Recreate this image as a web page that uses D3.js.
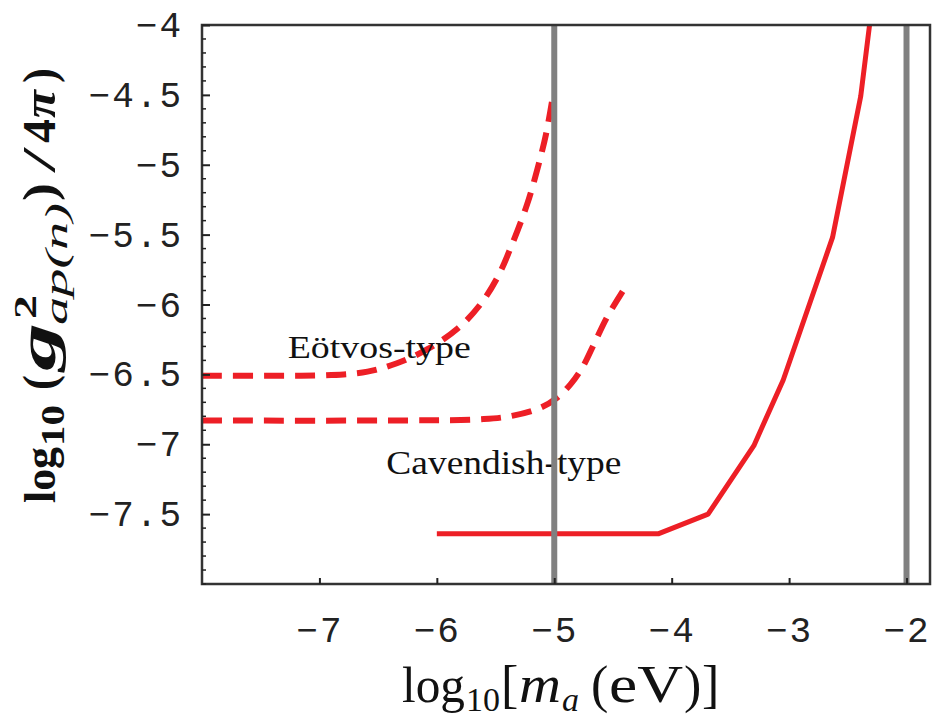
<!DOCTYPE html>
<html>
<head>
<meta charset="utf-8">
<script src="https://cdn.jsdelivr.net/npm/d3@7/dist/d3.min.js"></script>
<style>
  body { margin: 0; background: #fff; }
  svg { display: block; }
  .tick-label { font-family: "Liberation Mono", "DejaVu Sans Mono", monospace; font-size: 36px; fill: #222; }
  .serif { font-family: "Liberation Serif", "DejaVu Serif", serif; fill: #111; }
</style>
</head>
<body>
<svg id="chart" width="933" height="718"></svg>
<script>
// x = log10[m_a (eV)], y = log10(g^2/4pi)
const xTicks = [-7, -6, -5, -4, -3, -2];
const yTicks = [-4, -4.5, -5, -5.5, -6, -6.5, -7, -7.5];
const yMinor = d3.range(-8, -4.001, 0.1);

const cavendish = [
  [-6.0, -7.64], [-4.11, -7.64], [-3.69, -7.50], [-3.30, -7.01], [-3.05, -6.54],
  [-2.63, -5.52], [-2.39, -4.51], [-2.30, -3.90]
];
const eotvosUpper = [
  [-8.0, -6.51], [-7.4, -6.51], [-6.9, -6.505], [-6.59, -6.48], [-6.34, -6.42],
  [-6.08, -6.32], [-5.82, -6.17], [-5.63, -6.00], [-5.48, -5.80], [-5.35, -5.55],
  [-5.23, -5.28], [-5.14, -5.02], [-5.07, -4.78], [-5.02, -4.55]
];
const eotvosLower = [
  [-8.0, -6.83], [-6.5, -6.83], [-5.6, -6.82], [-5.35, -6.795], [-5.12, -6.74],
  [-4.98, -6.67], [-4.86, -6.57], [-4.76, -6.45], [-4.66, -6.28], [-4.55, -6.09],
  [-4.39, -5.87]
];
const boundaries = [-5, -2];

const svg = d3.select("#chart");
const margin = { top: 25, right: 3, bottom: 134, left: 202 };
const width = 933, height = 718;
const w = width - margin.left - margin.right, h = height - margin.top - margin.bottom;

const x = d3.scaleLinear().domain([-8, -1.8]).range([0, w]);
const y = d3.scaleLinear().domain([-8, -4]).range([h, 0]);

const g = svg.append("g").attr("transform", `translate(${margin.left},${margin.top})`);

g.append("clipPath").attr("id", "clip").append("rect").attr("width", w).attr("height", h);

const line = d3.line().x(d => x(d[0])).y(d => y(d[1]));
const smooth = d3.line().x(d => x(d[0])).y(d => y(d[1])).curve(d3.curveCatmullRom.alpha(0.5));

const plot = g.append("g").attr("clip-path", "url(#clip)");

plot.append("path").datum(cavendish).attr("d", line)
  .attr("fill", "none").attr("stroke", "#ed1f26").attr("stroke-width", 5).attr("stroke-linejoin", "round");
[eotvosUpper, eotvosLower].forEach(s => {
  plot.append("path").datum(s).attr("d", smooth)
    .attr("fill", "none").attr("stroke", "#ed1f26").attr("stroke-width", 6)
    .attr("stroke-dasharray", "20,11");
});

// labels
g.append("text").attr("class", "serif").attr("x", x(-7.27)).attr("y", y(-6.38))
  .attr("font-size", 31).attr("textLength", 183).attr("lengthAdjust", "spacingAndGlyphs").text("Eötvos-type");
g.append("text").attr("class", "serif").attr("x", x(-6.43)).attr("y", y(-7.21))
  .attr("font-size", 33).attr("textLength", 235).attr("lengthAdjust", "spacingAndGlyphs").text("Cavendish-type");

// grey vertical bounds drawn on top
g.selectAll(".bound").data(boundaries).enter().append("line")
  .attr("x1", d => x(d)).attr("x2", d => x(d)).attr("y1", 0).attr("y2", h)
  .attr("stroke", "#808080").attr("stroke-width", 6);

// frame
g.append("rect").attr("width", w).attr("height", h)
  .attr("fill", "none").attr("stroke", "#333").attr("stroke-width", 2.5);

// axes: inward ticks
const yAxis = g.append("g").call(d3.axisLeft(y).tickValues(yTicks).tickSize(-8).tickFormat(d => String(d).replace("-", "−")).tickPadding(18));
yAxis.select(".domain").remove();
yAxis.selectAll(".tick line").attr("stroke", "#222").attr("stroke-width", 2);
yAxis.selectAll(".tick text").attr("class", "tick-label").attr("font-size", null).attr("font-family", null)
  .attr("letter-spacing", 2).attr("x", -19);

g.append("g").selectAll("line").data(yMinor.filter(v => !yTicks.some(t => Math.abs(t - v) < 1e-6)))
  .enter().append("line")
  .attr("x1", 0).attr("x2", 4).attr("y1", d => y(d)).attr("y2", d => y(d))
  .attr("stroke", "#222").attr("stroke-width", 1.5);

const xAxis = g.append("g").attr("transform", `translate(0,${h})`)
  .call(d3.axisBottom(x).tickValues(xTicks).tickSize(-6).tickFormat(d => String(d).replace("-", "−")).tickPadding(30));
xAxis.select(".domain").remove();
xAxis.selectAll(".tick line").attr("stroke", "#222").attr("stroke-width", 2);
xAxis.selectAll(".tick text").attr("class", "tick-label").attr("font-size", null).attr("font-family", null)
  .attr("letter-spacing", 2).attr("y", 32);

// title pieces: [text, start, length (or null), size, baseline shift, italic, bold]
function pieces(parent, list) {
  list.forEach(p => {
    const t = parent.append("text").attr("class", "serif")
      .attr("x", p[1]).attr("y", p[4]).attr("font-size", p[3])
      .attr("font-style", p[5] ? "italic" : "normal").attr("font-weight", p[6] ? "bold" : "normal")
      .text(p[0]);
    if (p[2]) t.attr("textLength", p[2]).attr("lengthAdjust", "spacingAndGlyphs");
  });
}

// x title: log10[m_a (eV)]
pieces(svg.append("g").attr("transform", "translate(402,702)"), [
  ["log", 0, 63, 50, 0, false, false],
  ["10", 64, null, 34, 9, false, false],
  ["[", 99, null, 52, 0, false, false],
  ["m", 117, 42, 52, 0, true, false],
  ["a", 160, null, 34, 9, true, false],
  ["(", 189, null, 52, 0, false, false],
  ["eV", 207, 74, 52, 0, false, false],
  [")", 282, null, 52, 0, false, false],
  ["]", 300, null, 52, 0, false, false]
]);

// y title: log10 (g^2_ap(n) / 4π), rotated
pieces(svg.append("g").attr("transform", "translate(55,503) rotate(-90)"), [
  ["log", 0, 56, 44, 0, false, true],
  ["10", 57, 41, 34, 9, false, true],
  ["(", 113, 15, 46, 0, false, true],
  ["g", 132, 48, 52, 0, true, true],
  ["2", 184, 24, 32, -19, false, true],
  ["ap(n)", 178, 122, 32, 12, true, false],
  [")", 302, 18, 46, 0, false, true],
  ["/", 330, 26, 46, 0, false, false],
  ["4", 360, 24, 46, 0, false, true],
  ["π", 385, 28, 46, 0, true, true],
  [")", 420, 15, 46, 0, false, true]
]);
</script>
</body>
</html>
